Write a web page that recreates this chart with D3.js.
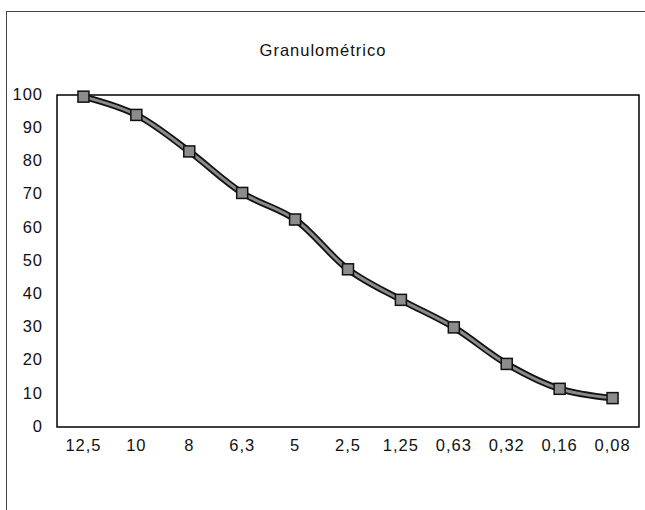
<!DOCTYPE html>
<html>
<head>
<meta charset="utf-8">
<script src="https://cdn.jsdelivr.net/npm/d3@7"></script>
<style>
  html, body { margin: 0; padding: 0; background: #fff; }
  svg { display: block; font-family: "Liberation Sans", Arial, sans-serif; }
</style>
</head>
<body>
<svg id="chart" width="645" height="510"></svg>
<script>
// Sieve openings (mm) and cumulative percent passing
const sieves = ["12,5", "10", "8", "6,3", "5", "2,5", "1,25", "0,63", "0,32", "0,16", "0,08"];
const passing = [99.5, 94, 83, 70.5, 62.5, 47.5, 38.3, 30, 19, 11.5, 8.7];
const yTicks = [0, 10, 20, 30, 40, 50, 60, 70, 80, 90, 100];
const title = "Granulométrico";

const svg = d3.select("#chart");
const plot = { left: 57, right: 639, top: 95, bottom: 427 };
const fontSize = 16.5;

// Outer chart frame (extends past the page edge on right and bottom)
svg.append("rect")
  .attr("x", 6.5).attr("y", 11.5)
  .attr("width", 700).attr("height", 600)
  .attr("fill", "none").attr("stroke", "#444").attr("stroke-width", 1);

svg.append("text")
  .attr("x", 323).attr("y", 56)
  .attr("text-anchor", "middle")
  .attr("font-size", fontSize)
  .attr("letter-spacing", 1)
  .attr("fill", "#111")
  .text(title);

const x = d3.scaleBand().domain(sieves).range([plot.left, plot.right]);
const y = d3.scaleLinear().domain([0, 100]).range([plot.bottom, plot.top]);

// Plot area frame
svg.append("rect")
  .attr("x", plot.left).attr("y", plot.top)
  .attr("width", plot.right - plot.left).attr("height", plot.bottom - plot.top)
  .attr("fill", "none").attr("stroke", "#000").attr("stroke-width", 1.5);

// Y axis labels
const yAxis = d3.axisLeft(y).tickValues(yTicks).tickSize(0).tickPadding(14);
const gy = svg.append("g").attr("transform", `translate(${plot.left},-1)`).call(yAxis);
gy.select(".domain").remove();
gy.selectAll("text").attr("font-size", fontSize).attr("letter-spacing", 1).attr("fill", "#111")
  .attr("font-family", "Liberation Sans, Arial, sans-serif");

// X axis labels
const xAxis = d3.axisBottom(x).tickSize(0).tickPadding(12);
const gx = svg.append("g").attr("transform", `translate(0,${plot.bottom})`).call(xAxis);
gx.select(".domain").remove();
gx.selectAll("text").attr("font-size", fontSize).attr("letter-spacing", 1).attr("fill", "#111")
  .attr("font-family", "Liberation Sans, Arial, sans-serif");

const pts = sieves.map((s, i) => [x(s) + x.bandwidth() / 2, y(passing[i])]);
const line = d3.line().curve(d3.curveCatmullRom.alpha(0.5));

// Smoothed curve: dark outline with grey core
svg.append("path").attr("d", line(pts))
  .attr("fill", "none").attr("stroke", "#111").attr("stroke-width", 6.5)
  .attr("stroke-linejoin", "round");
svg.append("path").attr("d", line(pts))
  .attr("fill", "none").attr("stroke", "#8a8a8a").attr("stroke-width", 3)
  .attr("stroke-linejoin", "round");

// Square markers
const ms = 11;
svg.append("g").selectAll("rect").data(pts).join("rect")
  .attr("x", d => d[0] - ms / 2).attr("y", d => d[1] - ms / 2)
  .attr("width", ms).attr("height", ms)
  .attr("fill", "#8c8c8c").attr("stroke", "#111").attr("stroke-width", 1.5);
</script>
</body>
</html>
